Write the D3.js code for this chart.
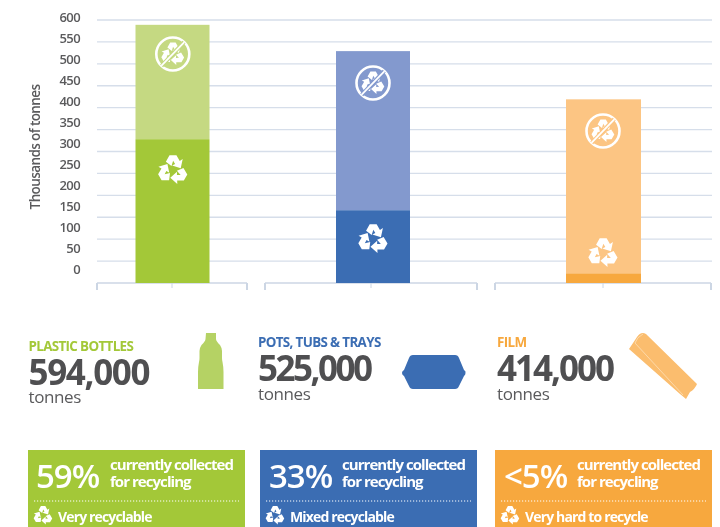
<!DOCTYPE html>
<html><head><meta charset="utf-8">
<style>html,body{margin:0;background:#fff}svg{display:block;filter:blur(0.35px)}</style>
<script src="https://cdn.jsdelivr.net/npm/d3@7"></script></head>
<body><svg id="c" width="720" height="527"></svg>
<script>
const categories=["PLASTIC BOTTLES","POTS, TUBS & TRAYS","FILM"];
const recycled=[328,166,22];
const remainder=[261,363,397];
const tickValues=[0,50,100,150,200,250,300,350,400,450,500,550,600];
const totals=["594,000","525,000","414,000"];
const shares=["59%","33%","<5%"];
const ratings=["Very recyclable","Mixed recyclable","Very hard to recycle"];
const darkColors=["#a3c838","#3b6db3","#f7a83e"];
const lightColors=["#c5d982","#8399ce","#fcc583"];
const titleColors=["#a3c838","#3b6db3","#f7a83e"];
const font="'Open Sans','Noto Sans',sans-serif";

const svg=d3.select("#c");
const y=d3.scaleLinear().domain([0,600]).range([283,20]);
const yLabel=d3.scaleLinear().domain([0,600]).range([269,17]);
const groups=[[97,247],[265,477],[495,711]];
const barX=d3.scaleOrdinal().domain(categories).range([135.5,336,566]);
const barW=d3.scaleOrdinal().domain(categories).range([74,74,75]);

svg.append("g").selectAll("line").data(tickValues.filter(d=>d>0)).join("line")
 .attr("x1",97).attr("x2",712).attr("y1",d=>y(d)).attr("y2",d=>y(d))
 .attr("stroke","#d6deea").attr("stroke-width",1.3);
groups.forEach(g=>{
  const ax=svg.append("g").attr("stroke","#ccd6e4").attr("stroke-width",1.3);
  ax.append("line").attr("x1",g[0]).attr("x2",g[1]).attr("y1",283).attr("y2",283);
  [g[0],(g[0]+g[1])/2,g[1]].forEach((x,i)=>ax.append("line").attr("x1",x).attr("x2",x).attr("y1",283).attr("y2",i==1?288:290).attr("stroke-width",i==1?1:2));
});
svg.append("g").selectAll("text").data(tickValues).join("text")
 .attr("x",80).attr("y",d=>yLabel(d)).attr("dy","0.35em").attr("text-anchor","end")
 .attr("font-family",font).attr("font-size",13).attr("font-weight",600).attr("fill","#5a5a5c").attr("letter-spacing",-0.6).text(d=>d);
svg.append("text").attr("transform","translate(35,147) rotate(-90)").attr("text-anchor","middle").attr("dy","0.35em")
 .attr("font-family",font).attr("font-size",13.5).attr("font-weight",600).attr("fill","#5a5a5c").attr("letter-spacing",-0.6).text("Thousands of tonnes");
svg.append("g").selectAll("rect").data(categories).join("rect")
 .attr("x",d=>barX(d)).attr("width",d=>barW(d))
 .attr("y",(d,i)=>y(recycled[i]+remainder[i])).attr("height",(d,i)=>y(0)-y(remainder[i]))
 .attr("fill",(d,i)=>lightColors[i]);
svg.append("g").selectAll("rect").data(categories).join("rect")
 .attr("x",d=>barX(d)).attr("width",d=>barW(d))
 .attr("y",(d,i)=>y(recycled[i])).attr("height",(d,i)=>y(0)-y(recycled[i]))
 .attr("fill",(d,i)=>darkColors[i]);

const arrow="M-0.42,-0.5 L-0.2,-0.9 L0.22,-0.9 L0.42,-0.55 L0.6,-0.66 L0.48,-0.1 L-0.04,-0.27 L0.14,-0.37 L0.02,-0.56 L-0.08,-0.24 Z";
function recycle(g,cx,cy,r){
  const s=g.append("g").attr("transform",`translate(${cx},${cy}) scale(${r})`).attr("fill","#fff");
  [0,120,240].forEach(a=>s.append("path").attr("d",arrow).attr("transform",`rotate(${a})`));
}
function noRecycle(g,cx,cy,r,bg){
  recycle(g,cx,cy,r*0.78);
  g.append("circle").attr("cx",cx).attr("cy",cy).attr("r",r).attr("fill","none").attr("stroke","#fff").attr("stroke-width",2.6);
  g.append("line").attr("x1",cx-r*.68).attr("y1",cy+r*.72).attr("x2",cx+r*.68).attr("y2",cy-r*.72).attr("stroke",bg).attr("stroke-width",4);
  g.append("line").attr("x1",cx-r*.7).attr("y1",cy+r*.72).attr("x2",cx+r*.7).attr("y2",cy-r*.72).attr("stroke","#fff").attr("stroke-width",1.8);
}
const icons=svg.append("g");
const ic=[172.8,373,603];
const noY=[54,83,131],yesY=[170,239,253];
categories.forEach((c,i)=>{noRecycle(icons,ic[i],noY[i],16.5,lightColors[i]);recycle(icons,ic[i],yesY[i],16.5);});

const hx=[28.5,258,497],hTitleY=[351,347,347],hNumY=[385,381,381],hTonY=[402.5,400,400],numW=[122,115,118];
const dark="#4f4f51";
categories.forEach((c,i)=>{
  svg.append("text").attr("x",hx[i]).attr("y",hTitleY[i]).attr("font-family",font).attr("font-size",13.4).attr("font-weight",700).attr("letter-spacing",-0.65).attr("fill",titleColors[i]).text(c);
  svg.append("text").attr("x",hx[i]).attr("y",hNumY[i]).attr("font-family",font).attr("font-size",35).attr("font-weight",700).attr("textLength",numW[i]).attr("fill",dark).text(totals[i]);
  svg.append("text").attr("x",hx[i]).attr("y",hTonY[i]).attr("font-family",font).attr("font-size",17).attr("letter-spacing",-0.4).attr("fill","#5a5a5c").text("tonnes");
});
svg.append("path").attr("fill","#b5d264").attr("d","M206,333 h10 v6 q0,2 4,6 q2,3 2,6 v7 q0,2 0.5,4 q1,5 1,10 v17 h-25.5 v-17 q0,-5 1,-10 q0.5,-2 0.5,-4 v-7 q0,-3 2,-6 q4,-4 4,-6 z");
svg.append("path").attr("fill","#3b6db3").attr("d","M413,355 h42 q3,0 4,3 l5,12 q2,1 1.5,3 q0,2 -1.5,3 l-5,10 q-1,3 -4,3 h-42 q-3,0 -4,-3 l-5,-10 q-2,-1 -2,-3 q0,-2 2,-3 l5,-12 q1,-3 4,-3 z");
svg.append("path").attr("fill","#fbbd6e").attr("d","M629,349 L637,337 Q641,331 646,334 L697,384 Q695,389 690,392 L686,399 L680,394 Z");
svg.append("path").attr("fill","none").attr("stroke","#fde0b8").attr("stroke-width",0.8).attr("d","M635,343 L683,395 M635,343 Q637,337 643,334");

const bx=[28,260,495],bw=[217,217,217],shareX=[36,269,504],noteX=[110,342,577];
categories.forEach((c,i)=>{
  svg.append("rect").attr("x",bx[i]).attr("y",450).attr("width",bw[i]).attr("height",77).attr("fill",darkColors[i]);
  svg.append("text").attr("x",shareX[i]).attr("y",488).attr("font-family",font).attr("font-size",33).attr("font-weight",600).attr("letter-spacing",-1).attr("fill","#fff").text(shares[i]);
  svg.append("text").attr("x",noteX[i]).attr("y",470).attr("font-family",font).attr("font-size",15).attr("font-weight",700).attr("letter-spacing",-0.95).attr("fill","#fff").text("currently collected");
  svg.append("text").attr("x",noteX[i]).attr("y",487).attr("font-family",font).attr("font-size",15).attr("font-weight",700).attr("letter-spacing",-0.95).attr("fill","#fff").text("for recycling");
  svg.append("line").attr("x1",bx[i]+6).attr("x2",bx[i]+211).attr("y1",501).attr("y2",501).attr("stroke","#fff").attr("stroke-width",1).attr("stroke-dasharray","1.2 1.8");
  recycle(svg,bx[i]+15,515.5,10.5);
  svg.append("text").attr("x",bx[i]+30).attr("y",522).attr("font-family",font).attr("font-size",14).attr("font-weight",700).attr("letter-spacing",-0.85).attr("fill","#fff").text(ratings[i]);
});
</script></body></html>
